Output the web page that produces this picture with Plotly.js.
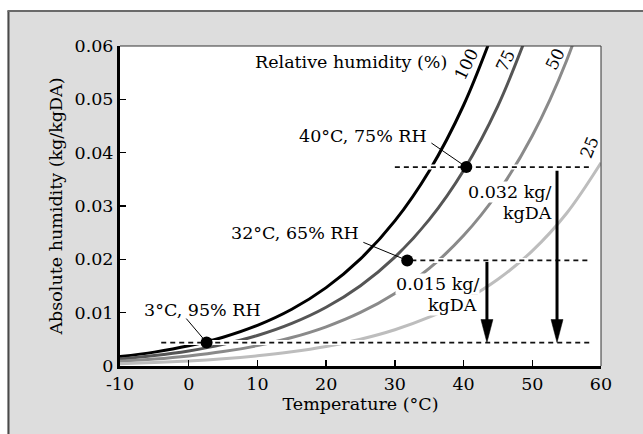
<!DOCTYPE html>
<html><head><meta charset="utf-8">
<script src="https://cdn.plot.ly/plotly-3.0.1.min.js"></script>
<style>html,body{margin:0;padding:0;background:#fff}#chart{width:643px;height:434px}</style>
</head><body><div id="chart"></div>
<script>
// Temperature (°C) sample points and absolute humidity (kg/kgDA) read for each relative-humidity curve
const temps = [-10,-5,0,5,10,15,20,25,30,35,40,45,50,55,60];
const rh100 = [0.00176,0.00260,0.00378,0.00540,0.00763,0.01065,0.01470,0.02009,0.02721,0.03658,0.04889,0.06506];
const rh75  = [0.00132,0.00195,0.00283,0.00405,0.00572,0.00799,0.01102,0.01506,0.02041,0.02744,0.03667,0.04879,0.06476];
const rh50  = [0.00088,0.00130,0.00189,0.00270,0.00382,0.00533,0.00735,0.01004,0.01361,0.01829,0.02445,0.03253,0.04317,0.05729,0.07623];
const rh25  = [0.00044,0.00065,0.00094,0.00135,0.00191,0.00266,0.00367,0.00502,0.00680,0.00915,0.01222,0.01626,0.02159,0.02864,0.03811];
const curveNames = ['100','75','50','25'];

// State points
const pointT = [2.6, 31.8, 40.4];
const pointW = [0.0044, 0.0198, 0.0373];
const pointLabels = ['3°C, 95% RH','32°C, 65% RH','40°C, 75% RH'];

// Dashed reference lines
const dashY = [0.0044, 0.0198, 0.0373];
const dashStart = [-4.0, 32.4, 30.0];
const dashEnd = [58.4, 58.4, 58.4];

// Drop arrows
const arrowX = [43.4, 53.6];
const arrowTop = [0.0198, 0.0369];
const arrowBottom = [0.0044, 0.0044];
const dropLabels = [['0.015 kg/','kgDA'],['0.032 kg/','kgDA']];

const xTicks = [-10,0,10,20,30,40,50,60];
const xTickText = ['-10','0','10','20','30','40','50','60'];
const yTicks = [0,0.01,0.02,0.03,0.04,0.05,0.06];
const yTickText = ['0','0.01','0.02','0.03','0.04','0.05','0.06'];

const FONT = 'DejaVu Serif';
const curveColors = ['#000000','#555555','#8a8a8a','#bdbdbd'];
const curveData = [rh100, rh75, rh50, rh25];

const traces = [];
curveData.forEach((ys, i) => {
  traces.push({x: temps.slice(0, ys.length), y: ys, mode: 'lines', type: 'scatter',
    line: {color: curveColors[i], width: 3, shape: 'spline', smoothing: 1},
    name: curveNames[i], hoverinfo: 'skip'});
});
// white halos under dashed lines
dashY.forEach((y, i) => {
  traces.push({x: [dashStart[i], dashEnd[i]], y: [y, y], mode: 'lines', type: 'scatter',
    line: {color: '#ffffff', width: 5}, hoverinfo: 'skip'});
});
dashY.forEach((y, i) => {
  traces.push({x: [dashStart[i], dashEnd[i]], y: [y, y], mode: 'lines', type: 'scatter',
    line: {color: '#111111', width: 1.8, dash: '5px,4px'}, hoverinfo: 'skip'});
});
traces.push({x: pointT, y: pointW, mode: 'markers', type: 'scatter',
  marker: {color: '#000', size: 12}, hoverinfo: 'skip', cliponaxis: false});

const annotations = [];
const txt = (text, x, y, xanchor, extra) => Object.assign({text, x, y, xref: 'x', yref: 'y',
  xanchor: xanchor || 'center', yanchor: 'middle', showarrow: false,
  font: {family: FONT, size: 17.5, color: '#000'}}, extra || {});

annotations.push(txt('Relative humidity (%)', 37.9, 0.0570, 'right'));
const curveLabelPos = [[40.4,0.0566,-64],[46.1,0.0574,-64],[53.3,0.0576,-64],[58.3,0.0411,-68]];
curveNames.forEach((n, i) => annotations.push(txt(n, curveLabelPos[i][0], curveLabelPos[i][1], 'center', {textangle: curveLabelPos[i][2], font:{family: FONT, size: 17, color:'#000'}})));

const labelPos = [[10.77,0.01054],[25.03,0.02486],[34.9,0.0432]];
const leaderStart = [[-0.54,0.00917],[25.2,0.0233],[35.1,0.0420]];
pointLabels.forEach((t, i) => {
  annotations.push(txt(t, labelPos[i][0], labelPos[i][1], 'right'));
  annotations.push({text: '', x: pointT[i], y: pointW[i], xref: 'x', yref: 'y',
    ax: leaderStart[i][0], ay: leaderStart[i][1], axref: 'x', ayref: 'y',
    showarrow: true, arrowhead: 0, arrowwidth: 1, arrowcolor: '#000'});
});

const dropPos = [[[42.4,0.01545],[42.15,0.01148]],[[52.9,0.03254],[53.0,0.02863]]];
dropLabels.forEach((lines, i) => {
  [1, 0].forEach(j => annotations.push(txt(lines[j], dropPos[i][j][0], dropPos[i][j][1], 'right',
    {bgcolor: '#ffffff', borderpad: 0})));
});

const shapes = [];
// outer frame
shapes.push({type:'rect', xref:'paper', yref:'paper', x0:-1, x1:2, y0:1.1125, y1:2, fillcolor:'#ffffff', line:{width:0}, layer:'below'});
shapes.push({type:'rect', xref:'paper', yref:'paper', x0:-1, x1:-0.2349, y0:-1, y1:2, fillcolor:'#ffffff', line:{width:0}, layer:'below'});
shapes.push({type:'line', xref:'paper', yref:'paper', x0:-0.2318, x1:-0.2318, y0:-1, y1:1.1094, line:{color:'#4a4a4a', width:2}, layer:'below'});
shapes.push({type:'line', xref:'paper', yref:'paper', x0:-0.2339, x1:2, y0:1.1094, y1:1.1094, line:{color:'#6a6a6a', width:2}, layer:'below'});
// plot border top/right
shapes.push({type:'line', xref:'paper', yref:'paper', x0:0, x1:1, y0:1, y1:1, line:{color:'#333', width:1}});
shapes.push({type:'line', xref:'paper', yref:'paper', x0:1, x1:1, y0:0, y1:1, line:{color:'#333', width:1}});

arrowX.forEach((x, i) => {
  annotations.push({text: '', x: x, y: arrowBottom[i], xref: 'x', yref: 'y',
    ax: x, ay: arrowTop[i], axref: 'x', ayref: 'y', showarrow: true, arrowhead: 0,
    arrowwidth: 3, arrowcolor: '#000', standoff: 12});
  shapes.push({type: 'path', xref: 'x', yref: 'y', xsizemode: 'pixel', ysizemode: 'pixel',
    xanchor: x, yanchor: arrowBottom[i], path: 'M-6,23 L6,23 L0,0 Z',
    fillcolor: '#000', line: {color: '#000', width: 0.5}});
});

const layout = {
  width: 643, height: 434,
  margin: {l: 120, r: 42, t: 46, b: 68},
  paper_bgcolor: '#dddddd', plot_bgcolor: '#ffffff',
  showlegend: false,
  font: {family: FONT, size: 17, color: '#000'},
  xaxis: {range: [-10, 60], tickvals: xTicks, ticktext: xTickText, ticks: 'inside', ticklen: 6, tickwidth: 1.5, tickcolor: '#000',
    showline: true, linewidth: 3, linecolor: '#000', showgrid: false, zeroline: false,
    tickfont: {family: FONT, size: 17.5, color: '#000'},
    title: {text: 'Temperature (°C)', font: {family: FONT, size: 17.5, color: '#000'}, standoff: 5}},
  yaxis: {range: [0, 0.06], tickvals: yTicks, ticktext: yTickText, ticks: 'inside', ticklen: 6, tickwidth: 1.5, tickcolor: '#000',
    showline: true, linewidth: 3, linecolor: '#000', showgrid: false, zeroline: false,
    tickfont: {family: FONT, size: 17.5, color: '#000'},
    title: {text: 'Absolute humidity (kg/kgDA)', font: {family: FONT, size: 17.5, color: '#000'}, standoff: 8}},
  annotations, shapes
};

Plotly.newPlot('chart', traces, layout, {staticPlot: true, displayModeBar: false});
</script></body></html>
